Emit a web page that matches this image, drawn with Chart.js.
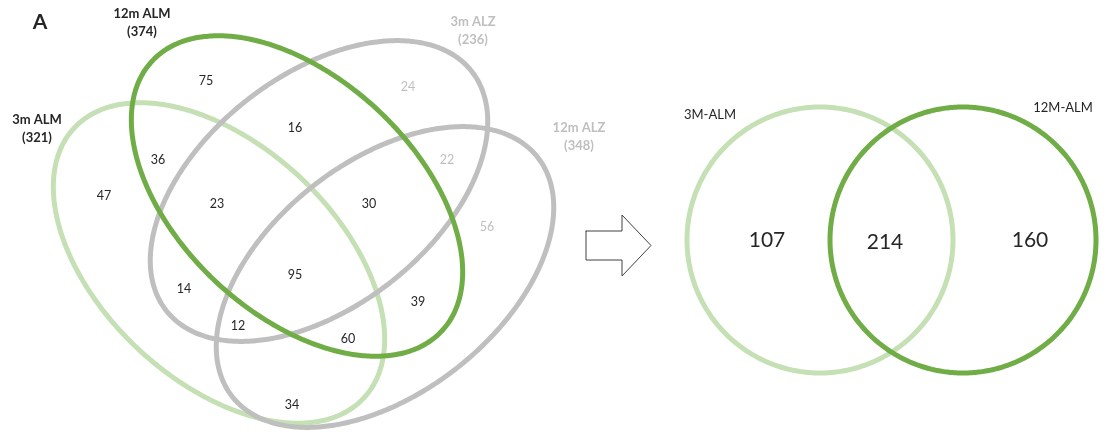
<!DOCTYPE html>
<html>
<head>
<meta charset="utf-8">
<title>Venn ALM / ALZ</title>
<script src="https://cdn.jsdelivr.net/npm/chart.js@4.4.1/dist/chart.umd.min.js"></script>
<style>
  html, body { margin: 0; padding: 0; background: #fff; }
  canvas { display: block; }
</style>
</head>
<body>
<canvas id="venn" width="1120" height="436"></canvas>
<script>
// Conjuntos del diagrama de 4 elipses
const setNames = ['12m ALM', '3m ALM', '3m ALZ', '12m ALZ'];
const setTotals = [374, 321, 236, 348];

// Recuento de cada región (mismo orden que regionPos)
const regionCounts = [75, 16, 24, 22, 36, 47, 23, 30, 56, 95, 14, 39, 12, 60, 34];

// Diagrama de 2 círculos: solo 3M, intersección, solo 12M
const pairNames = ['3M-ALM', '12M-ALM'];
const pairCounts = [107, 214, 160];

// ---- posiciones y estilos (en px del lienzo) ----
const DARK = '#70ad47', LIGHT = '#c5e0b4', GRAY = '#bfbfbf', INK = '#262626';

// elipses: centro, semiejes, giro (grados), color
const ellipses = [
    { cx: 297, cy: 196, a: 198, b: 118, rot: 43, color: DARK, order: 0 },   // 12m ALM
    { cx: 219, cy: 263, a: 198, b: 118, rot: 43, color: LIGHT, order: 3 },  // 3m ALM
    { cx: 319, cy: 191, a: 194, b: 116, rot: -38, color: GRAY, order: 2 },  // 3m ALZ
    { cx: 385, cy: 277, a: 194, b: 116, rot: -38, color: GRAY, order: 1 }   // 12m ALZ
];
const circles = [
    { cx: 820, cy: 240, r: 133, color: LIGHT, order: 3 },
    { cx: 963, cy: 240, r: 133, color: DARK, order: 0 }
];

const setLabelPos = [[142, 14], [37, 120], [473, 22], [579, 128]];
const setLabelColor = [INK, INK, GRAY, GRAY];

const regionPos = [
    [206, 81], [295, 128], [408, 87], [447, 160], [158, 160], [104, 196],
    [217, 204], [369, 204], [487, 227], [295, 275], [184, 289], [418, 302],
    [238, 326], [348, 339], [292, 405]
];
const regionColor = regionPos.map((p, i) => [2, 3, 8].includes(i) ? GRAY : INK);

const pairLabelPos = [[710, 115], [1063, 108]];
const pairCountPos = [[767, 240], [885, 242], [1030, 240]];

const arrowPts = [[586, 231], [622, 231], [622, 215], [651, 245.5], [622, 276], [622, 260], [586, 260], [586, 231]];

// contorno de una elipse girada como lista de puntos
function ellipsePoints(e, n) {
    const th = e.rot * Math.PI / 180;
    const pts = [];
    for (let k = 0; k <= n; k++) {
        const t = 2 * Math.PI * k / n;
        const ca = e.a * Math.cos(t), sb = e.b * Math.sin(t);
        pts.push({
            x: e.cx + ca * Math.cos(th) - sb * Math.sin(th),
            y: e.cy + ca * Math.sin(th) + sb * Math.cos(th)
        });
    }
    return pts;
}

// tension > 0 evita el trazado rápido (que redondea x a enteros y deja dientes)
function outline(pts, color, width, order, tension) {
    return {
        type: 'line', data: pts, borderColor: color, borderWidth: width,
        pointRadius: 0, fill: false, tension: tension, order: order, clip: false
    };
}

function texts(pos, strs, colors, font) {
    return {
        type: 'scatter',
        data: pos.map(p => ({ x: p[0], y: p[1] })),
        pointRadius: 0, order: -1, clip: false,
        texts: strs, textColors: colors, textFont: font
    };
}

const datasets = [];
ellipses.forEach(e => datasets.push(outline(ellipsePoints(e, 240), e.color, 5, e.order, 0.2)));
circles.forEach(c => datasets.push(outline(ellipsePoints({ cx: c.cx, cy: c.cy, a: c.r, b: c.r, rot: 0 }, 240), c.color, 5, c.order, 0.2)));
datasets.push(outline(arrowPts.map(p => ({ x: p[0], y: p[1] })), '#404040', 1, 0, 0));

datasets.push(texts([[40, 22]], ['A'], [INK], 'bold 21px Lato'));
datasets.push(texts(setLabelPos, setNames, setLabelColor, 'bold 13px Lato'));
datasets.push(texts(setLabelPos.map(p => [p[0], p[1] + 18]), setTotals.map(v => '(' + v + ')'), setLabelColor, 'bold 13px Lato'));
datasets.push(texts(regionPos, regionCounts.map(String), regionColor, '12.5px Lato'));
datasets.push(texts(pairLabelPos, pairNames, [INK, INK], '13px Lato'));
datasets.push(texts(pairCountPos, pairCounts.map(String), [INK, INK, INK], '21px Lato'));

// escribe los textos en la posición de cada punto
const textPlugin = {
    id: 'vennText',
    afterDatasetsDraw(chart) {
        const ctx = chart.ctx;
        chart.data.datasets.forEach((ds, i) => {
            if (!ds.texts) return;
            const meta = chart.getDatasetMeta(i);
            ctx.save();
            ctx.font = ds.textFont;
            ctx.textAlign = 'center';
            ctx.textBaseline = 'middle';
            meta.data.forEach((el, j) => {
                ctx.fillStyle = ds.textColors[j];
                ctx.fillText(ds.texts[j], el.x, el.y);
            });
            ctx.restore();
        });
    }
};

new Chart(document.getElementById('venn').getContext('2d'), {
    type: 'scatter',
    data: { datasets: datasets },
    options: {
        responsive: false,
        animation: false,
        events: [],
        layout: { padding: 0 },
        plugins: { legend: { display: false }, tooltip: { enabled: false } },
        elements: { line: { borderCapStyle: 'round', borderJoinStyle: 'round', capBezierPoints: false } },
        scales: {
            x: { type: 'linear', min: 0, max: 1120, display: false },
            y: { type: 'linear', min: 0, max: 436, reverse: true, display: false }
        }
    },
    plugins: [textPlugin]
});
</script>
</body>
</html>
